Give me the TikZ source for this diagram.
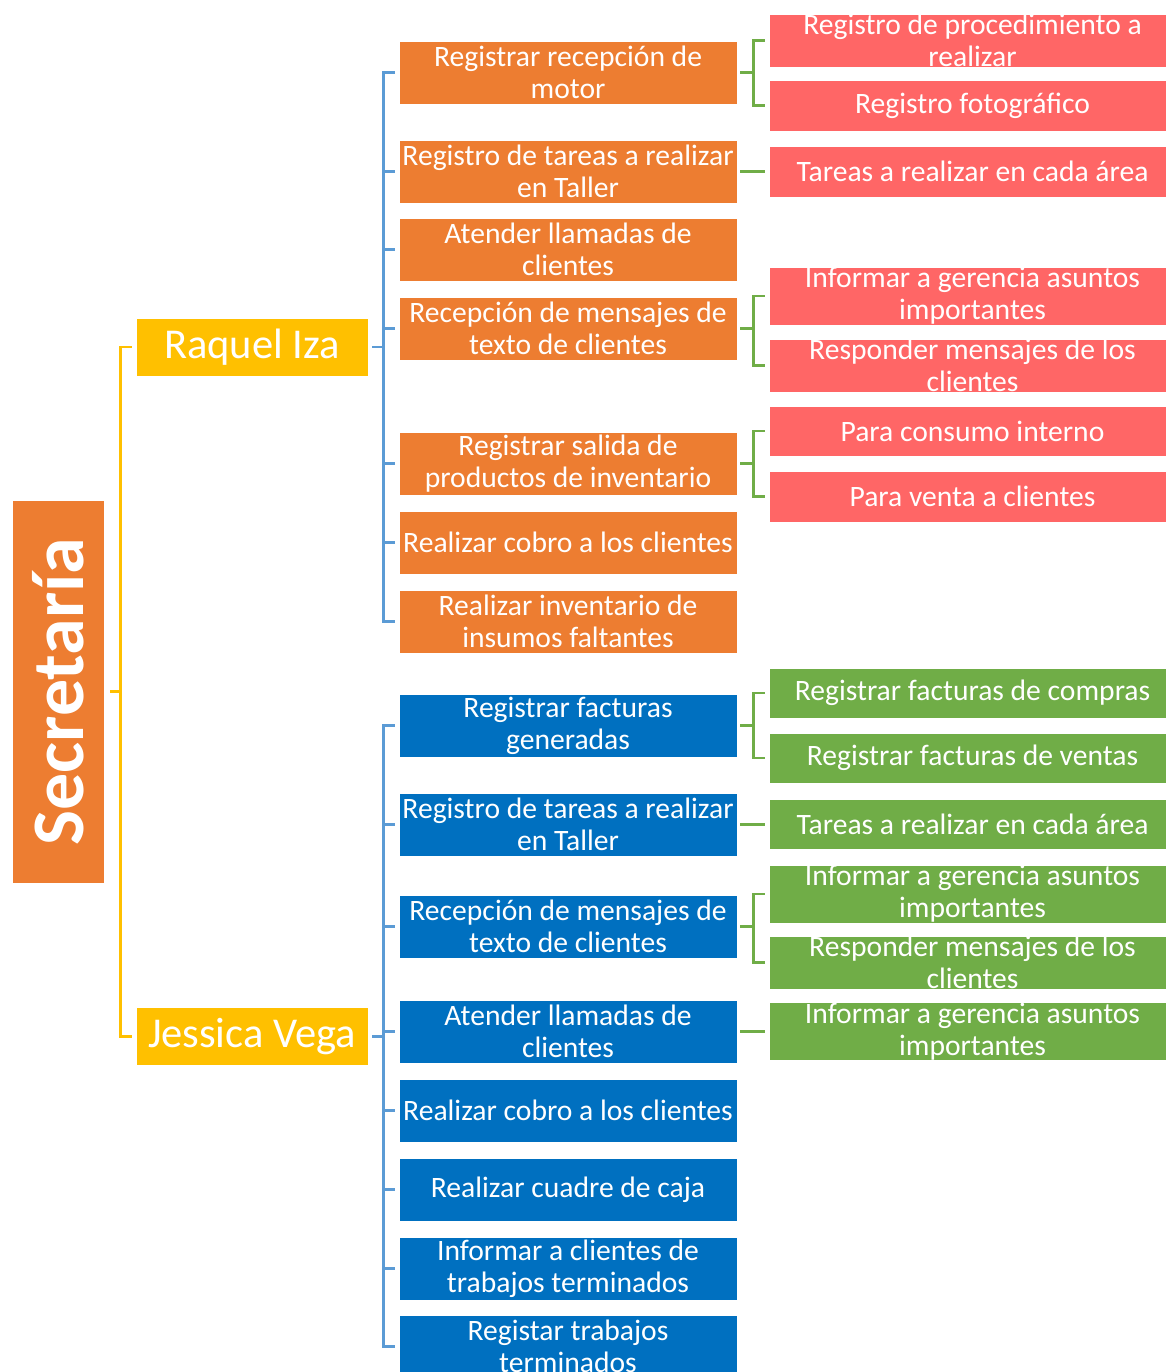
\documentclass[tikz,border=0pt]{standalone}
\usepackage{fontspec}
\setmainfont{Carlito}
\definecolor{cOrange}{HTML}{ED7D31}
\definecolor{cYellow}{HTML}{FFC000}
\definecolor{cLine}{HTML}{5B9BD5}
\definecolor{cBlue}{HTML}{0070C0}
\definecolor{cGreen}{HTML}{70AD47}
\definecolor{cRed}{HTML}{FF6666}
\begin{document}
\begin{tikzpicture}[x=1pt,y=-1pt,
  box/.style={rectangle, inner sep=0pt, text=white, align=center,
    font=\fontsize{29.6}{32}\selectfont, draw=white, line width=0.6pt},
  midbox/.style={box, minimum width=338pt, minimum height=63pt},
  obox/.style={midbox, fill=cOrange},
  bbox/.style={midbox, fill=cBlue},
  rbox/.style={box, minimum width=407pt, fill=cRed},
  gbox/.style={box, minimum width=407pt, fill=cGreen},
  pbox/.style={box, fill=cYellow, minimum width=232pt, minimum height=58pt,
    font=\fontsize{42.5}{46}\selectfont},
  ylink/.style={draw=cYellow, line width=2.6pt, shorten <=6pt, shorten >=4pt},
  blink/.style={draw=cLine, line width=2.6pt, shorten <=4pt, shorten >=4pt},
  glink/.style={draw=cGreen, line width=2.6pt, shorten <=3pt, shorten >=4pt}
]
\useasboundingbox (0,0) rectangle (1166,1372);
\clip (0,0) rectangle (1166,1372);

% root
\node[box, fill=cOrange, minimum width=92pt, minimum height=383pt,
  font=\fontsize{74}{80}\selectfont\bfseries] (sec) at (58,691.5)
  {\rotatebox{90}{Secretaría}};

% persons
\node[pbox] (rq) at (252,347) {Raquel Iza};
\node[pbox] (jv) at (252,1036.5) {Jessica Vega};

% Raquel tasks
\node[obox] (o1) at (568,72.5) {Registrar recepción de\\motor};
\node[obox] (o2) at (568,171.5) {Registro de tareas a realizar\\en Taller};
\node[obox] (o3) at (568,249.5) {Atender llamadas de\\clientes};
\node[obox] (o4) at (568,328.5) {Recepción de mensajes de\\texto de clientes};
\node[obox] (o5) at (568,463.5) {Registrar salida de\\productos de inventario};
\node[obox] (o6) at (568,542.5) {Realizar cobro a los clientes};
\node[obox] (o7) at (568,621.5) {Realizar inventario de\\insumos faltantes};

% Jessica tasks
\node[bbox] (b1) at (568,725.5) {Registrar facturas\\generadas};
\node[bbox] (b2) at (568,824.5) {Registro de tareas a realizar\\en Taller};
\node[bbox] (b3) at (568,926.5) {Recepción de mensajes de\\texto de clientes};
\node[bbox] (b4) at (568,1031.5) {Atender llamadas de\\clientes};
\node[bbox] (b5) at (568,1110.5) {Realizar cobro a los clientes};
\node[bbox] (b6) at (568,1189.5) {Realizar cuadre de caja};
\node[bbox] (b7) at (568,1268.5) {Informar a clientes de\\trabajos terminados};
\node[bbox] (b8) at (568,1346.5) {Registar trabajos\\terminados};

% red sub-tasks
\node[rbox, minimum height=51pt] (r1) at (972.5,40.5) {Registro de procedimiento a\\realizar};
\node[rbox, minimum height=51pt] (r2) at (972.5,105.5) {Registro fotográfico};
\node[rbox, minimum height=51pt] (r3) at (972.5,171.5) {Tareas a realizar en cada área};
\node[rbox, minimum height=58pt] (r4) at (972.5,296) {Informar a gerencia asuntos\\importantes};
\node[rbox, minimum height=51pt] (r5) at (972.5,365.5) {Responder mensajes de los\\clientes};
\node[rbox, minimum height=50pt] (r6) at (972.5,431) {Para consumo interno};
\node[rbox, minimum height=51pt] (r7) at (972.5,496.5) {Para venta a clientes};

% green sub-tasks
\node[gbox, minimum height=50pt] (g1) at (972.5,693) {Registrar facturas de compras};
\node[gbox, minimum height=50pt] (g2) at (972.5,758) {Registrar facturas de ventas};
\node[gbox, minimum height=50pt] (g3) at (972.5,824.5) {Tareas a realizar en cada área};
\node[gbox, minimum height=58pt] (g4) at (972.5,894) {Informar a gerencia asuntos\\importantes};
\node[gbox, minimum height=51pt] (g5) at (972.5,962.5) {Responder mensajes de los\\clientes};
\node[gbox, minimum height=58pt] (g6) at (972.5,1031.5) {Informar a gerencia asuntos\\importantes};

% yellow connectors
\foreach \c in {rq,jv}
  \draw[ylink] (sec.east) -- ++(16,0) |- (\c.west);

% blue connectors
\foreach \c in {o1,o2,o3,o4,o5,o6,o7}
  \draw[blink] (rq.east) -- ++(15,0) |- (\c.west);
\foreach \c in {b1,b2,b3,b4,b5,b6,b7,b8}
  \draw[blink] (jv.east) -- ++(15,0) |- (\c.west);

% green connectors (brackets)
\foreach \p/\c in {o1/r1,o1/r2,o4/r4,o4/r5,o5/r6,o5/r7,
                   b1/g1,b1/g2,b3/g4,b3/g5}
  \draw[glink] (\p.east) -- ++(16,0) |- (\c.west);
% green connectors (straight)
\foreach \p/\c in {o2/r3,b2/g3,b4/g6}
  \draw[glink] (\p.east) -- (\c.west);
\end{tikzpicture}
\end{document}
